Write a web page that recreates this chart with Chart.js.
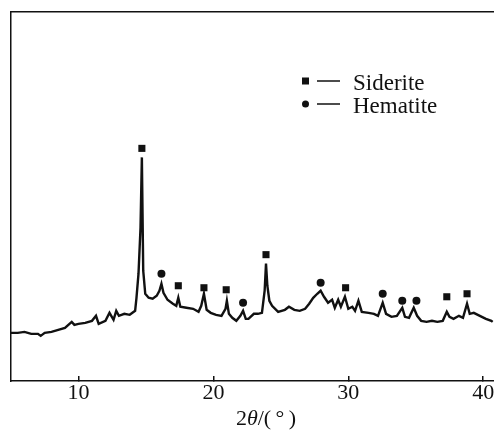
<!DOCTYPE html>
<html>
<head>
<meta charset="utf-8">
<script src="https://cdn.jsdelivr.net/npm/chart.js@4.4.0/dist/chart.umd.min.js"></script>
<style>
  html, body { margin: 0; padding: 0; background: #fff; overflow: hidden; }
  #wrap { width: 494px; height: 434px; overflow: hidden; }
  #inner { width: 526px; height: 434px; }
</style>
</head>
<body>
<div id="wrap"><div id="inner"><canvas id="xrd" width="526" height="434"></canvas></div></div>
<script>
// XRD pattern (intensity in arbitrary units)
const twoTheta = [
  5.0, 5.5, 6.0, 6.5, 7.0, 7.2, 7.5, 8.0, 8.5, 9.0,
  9.5, 9.7, 10.0, 10.5, 11.0, 11.3, 11.5, 12.0, 12.3, 12.6,
  12.8, 13.0, 13.4, 13.8, 14.0, 14.2, 14.3, 14.45, 14.6, 14.7,
  14.8, 14.95, 15.2, 15.5, 15.8, 16.0, 16.15, 16.3, 16.6, 17.0,
  17.25, 17.4, 17.55, 18.0, 18.5, 18.9, 19.1, 19.3, 19.5, 19.8,
  20.2, 20.6, 20.9, 21.0, 21.15, 21.4, 21.7, 22.0, 22.2, 22.4,
  22.6, 23.0, 23.3, 23.6, 23.8, 23.9, 24.0, 24.15, 24.35, 24.8,
  25.3, 25.6, 26.0, 26.4, 26.8, 27.1, 27.4, 27.7, 27.95, 28.2,
  28.5, 28.8, 29.0, 29.25, 29.45, 29.75, 30.0, 30.3, 30.5, 30.75,
  31.0, 31.5, 31.9, 32.2, 32.55, 32.8, 33.2, 33.6, 34.0, 34.2,
  34.5, 34.85, 35.1, 35.4, 35.8, 36.2, 36.6, 37.0, 37.3, 37.5,
  37.8, 38.2, 38.5, 38.8, 39.0, 39.3, 39.6, 39.9, 40.2, 40.6,
  40.7
];
const intensity = [
  48, 48, 49, 47, 47, 45, 48, 49, 51, 53,
  59, 56, 57, 58, 60, 65, 57, 60, 68, 61,
  70, 65, 67, 66, 68, 70, 83, 107, 153, 223,
  110, 87, 83, 82, 85, 90, 97, 88, 81, 77,
  75, 83, 74, 73, 72, 69, 75, 87, 71, 68,
  66, 65, 72, 80, 67, 63, 60, 65, 70, 62,
  62, 67, 67, 68, 90, 117, 95, 80, 75, 69,
  71, 74, 71, 70, 72, 77, 83, 87, 90, 84,
  78, 81, 73, 81, 74, 84, 72, 74, 70, 80,
  69, 68, 67, 65, 78, 67, 64, 65, 73, 64,
  63, 73, 65, 60, 59, 60, 59, 60, 69, 64,
  62, 65, 63, 77, 67, 68, 66, 64, 62, 60,
  59
];

// peak markers
const sideritePeaks = [14.7, 17.4, 19.3, 20.95, 23.9, 29.8, 37.3, 38.8];
const sideriteMarks = [232, 95, 93, 91, 126, 93, 84, 87];
const hematitePeaks = [16.15, 22.2, 27.95, 32.55, 34.0, 35.05];
const hematiteMarks = [107, 78, 98, 87, 80, 80];

const xTicks = [10, 20, 30, 40];
const legendNames = ['Siderite', 'Hematite'];

const ink = '#111';
const serif = '"Liberation Serif", "Times New Roman", serif';

function toPoints(xs, ys) {
  return xs.map((x, i) => ({ x: x, y: ys[i] }));
}

// legend + axis title (2θ with italic theta)
const annotatePlugin = {
  id: 'annotate',
  afterDraw(chart) {
    const ctx = chart.ctx;
    const xs = chart.scales.x;
    ctx.save();
    ctx.fillStyle = ink;
    ctx.strokeStyle = ink;

    // axis title
    const parts = [['2', false], ['θ', true], ['/(\u2009°\u2009)', false]];
    let total = 0;
    parts.forEach(p => {
      ctx.font = (p[1] ? 'italic ' : '') + '22px ' + serif;
      total += ctx.measureText(p[0]).width;
    });
    let tx = (xs.left + xs.right) / 2 - total / 2;
    ctx.textBaseline = 'alphabetic';
    parts.forEach(p => {
      ctx.font = (p[1] ? 'italic ' : '') + '22px ' + serif;
      ctx.fillText(p[0], tx, 425);
      tx += ctx.measureText(p[0]).width;
    });

    // legend
    const rows = [81, 104];
    ctx.lineWidth = 1.5;
    rows.forEach((y, i) => {
      if (i === 0) {
        ctx.fillRect(302, y - 3.5, 7, 7);
      } else {
        ctx.beginPath();
        ctx.arc(305.5, y, 3.5, 0, Math.PI * 2);
        ctx.fill();
      }
      ctx.beginPath();
      ctx.moveTo(317, y);
      ctx.lineTo(340, y);
      ctx.stroke();
      ctx.font = '23px ' + serif;
      ctx.fillText(legendNames[i], 353, y + 9);
    });
    ctx.restore();
  }
};

new Chart(document.getElementById('xrd'), {
  type: 'scatter',
  data: {
    datasets: [
      {
        label: 'XRD',
        data: toPoints(twoTheta, intensity),
        showLine: true,
        borderColor: ink,
        borderWidth: 2.4,
        pointRadius: 0,
        tension: 0
      },
      {
        label: 'Siderite',
        data: toPoints(sideritePeaks, sideriteMarks),
        pointStyle: 'rect',
        pointRadius: 5,
        backgroundColor: ink,
        borderColor: ink,
        borderWidth: 0
      },
      {
        label: 'Hematite',
        data: toPoints(hematitePeaks, hematiteMarks),
        pointStyle: 'circle',
        pointRadius: 4,
        backgroundColor: ink,
        borderColor: ink,
        borderWidth: 0
      }
    ]
  },
  options: {
    responsive: false,
    animation: false,
    devicePixelRatio: 1,
    layout: {
      padding: { left: 11, top: 12, right: 3, bottom: 0 }
    },
    plugins: {
      legend: { display: false },
      tooltip: { enabled: false }
    },
    scales: {
      x: {
        type: 'linear',
        position: 'bottom',
        min: 5,
        max: 42.8,
        afterBuildTicks: (scale) => {
          scale.ticks = xTicks.map(v => ({ value: v }));
        },
        afterFit: (scale) => { scale.height = 53; },
        ticks: {
          color: ink,
          font: { family: serif, size: 22 },
          padding: 4,
          maxRotation: 0,
          autoSkip: false
        },
        grid: {
          drawOnChartArea: false,
          drawTicks: true,
          tickLength: -5,
          color: ink,
          lineWidth: 1.5
        },
        border: { color: ink, width: 1.5 }
      },
      xTop: {
        type: 'linear',
        axis: 'x',
        position: 'top',
        min: 5,
        max: 42.8,
        afterFit: (scale) => { scale.height = 0; },
        ticks: { display: false },
        grid: { display: false },
        border: { color: ink, width: 1.5 }
      },
      y: {
        type: 'linear',
        min: 0,
        max: 368,
        afterFit: (scale) => { scale.width = 0; },
        ticks: { display: false },
        grid: { display: false },
        border: { color: ink, width: 1.5 }
      }
    }
  },
  plugins: [annotatePlugin]
});
</script>
</body>
</html>
